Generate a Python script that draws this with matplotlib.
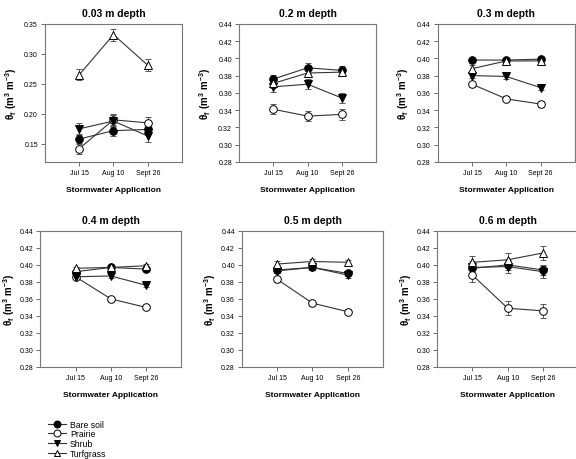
import matplotlib
matplotlib.use("Agg")
import matplotlib.pyplot as plt
from matplotlib.lines import Line2D

plt.rcParams["font.family"] = ["Liberation Sans", "DejaVu Sans"]
plt.rcParams["mathtext.fontset"] = "custom"
plt.rcParams["mathtext.bf"] = "Liberation Sans:bold"
plt.rcParams["mathtext.rm"] = "Liberation Sans:bold"
plt.rcParams["mathtext.default"] = "bf"

dates = ["Jul 15", "Aug 10", "Sept 26"]
depths = ["0.03 m depth", "0.2 m depth", "0.3 m depth",
          "0.4 m depth", "0.5 m depth", "0.6 m depth"]
treatments = ["Bare soil", "Prairie", "Shrub", "Turfgrass"]

# mean values per depth, per treatment (Jul 15, Aug 10, Sept 26)
bare_soil = [[0.158, 0.172, 0.174], [0.376, 0.389, 0.386], [0.398, 0.398, 0.399],
             [0.392, 0.397, 0.395], [0.394, 0.397, 0.390], [0.396, 0.400, 0.394]]
prairie = [[0.142, 0.190, 0.185], [0.341, 0.333, 0.335], [0.370, 0.353, 0.347],
           [0.386, 0.360, 0.350], [0.383, 0.355, 0.345], [0.388, 0.349, 0.346]]
shrub = [[0.175, 0.188, 0.163], [0.367, 0.370, 0.354], [0.380, 0.379, 0.366],
         [0.386, 0.387, 0.376], [0.393, 0.397, 0.388], [0.397, 0.398, 0.392]]
turfgrass = [[0.265, 0.332, 0.281], [0.371, 0.383, 0.384], [0.388, 0.397, 0.397],
             [0.396, 0.397, 0.399], [0.401, 0.404, 0.403], [0.403, 0.406, 0.414]]
# standard errors
err_bare = [[0.008, 0.009, 0.008], [0.005, 0.006, 0.005], [0.002, 0.002, 0.002],
            [0.002, 0.002, 0.002], [0.003, 0.003, 0.003], [0.006, 0.006, 0.006]]
err_prairie = [[0.009, 0.010, 0.010], [0.006, 0.006, 0.006], [0.003, 0.003, 0.003],
               [0.002, 0.002, 0.002], [0.003, 0.003, 0.003], [0.008, 0.008, 0.008]]
err_shrub = [[0.010, 0.010, 0.010], [0.006, 0.006, 0.006], [0.003, 0.003, 0.003],
             [0.002, 0.002, 0.002], [0.003, 0.003, 0.003], [0.007, 0.007, 0.007]]
err_turf = [[0.009, 0.010, 0.010], [0.005, 0.005, 0.005], [0.004, 0.003, 0.003],
            [0.002, 0.002, 0.002], [0.003, 0.003, 0.003], [0.008, 0.008, 0.008]]

series = [bare_soil, prairie, shrub, turfgrass]
errors = [err_bare, err_prairie, err_shrub, err_turf]
markers = ["o", "o", "v", "^"]
faces = ["black", "white", "black", "white"]

fig = plt.figure(figsize=(5.76, 4.6), dpi=100)
lefts = [[0.078, 0.415, 0.760], [0.070, 0.420, 0.759]]
widths = [0.238, 0.245]
bottoms = [0.646, 0.200]
heights = [0.300, 0.296]

x = [1, 2, 3]
for i, name in enumerate(depths):
    r, c = divmod(i, 3)
    ax = fig.add_axes([lefts[r][c], bottoms[r], widths[r], heights[r]])
    for s, e, m, fc in zip(series, errors, markers, faces):
        ax.errorbar(x, s[i], yerr=e[i], marker=m, ms=5.5, mfc=fc, mec="black",
                    mew=0.7, color="#333333", lw=0.8, ecolor="#555555",
                    elinewidth=0.7, capsize=2.5, capthick=0.7)
    ax.set_xlim(0, 4)
    ax.set_xticks(x)
    ax.set_xticklabels(dates)
    if i == 0:
        ax.set_ylim(0.12, 0.35)
        ax.set_yticks([0.15, 0.20, 0.25, 0.30, 0.35])
    else:
        ax.set_ylim(0.28, 0.44)
        ax.set_yticks([0.28, 0.30, 0.32, 0.34, 0.36, 0.38, 0.40, 0.42, 0.44])
    ax.yaxis.set_major_formatter(matplotlib.ticker.FormatStrFormatter("%.2f"))
    ax.tick_params(labelsize=5, length=3, width=0.6, direction="out",
                   top=False, right=False, color="#555555", pad=2)
    for sp in ax.spines.values():
        sp.set_color("#777777")
        sp.set_linewidth(0.8)
    ax.set_title(name, fontsize=7.5, fontweight="bold", pad=6)
    ax.set_xlabel("Stormwater Application", fontsize=6, fontweight="bold", labelpad=7)
    ax.set_ylabel(r"$\theta_f\ (m^3\ m^{-3})$", fontsize=7, labelpad=4 if r == 0 else 2)

handles = [Line2D([0], [0], marker=m, ms=5, mfc=fc, mec="black", mew=0.7,
                  color="#333333", lw=0.8) for m, fc in zip(markers, faces)]
fig.legend(handles, treatments, loc="upper left", bbox_to_anchor=(0.075, 0.095),
           frameon=False, fontsize=6.2, handlelength=2.2, labelspacing=0.1,
           handletextpad=0.4, borderpad=0)

fig.savefig("out.png", dpi=100)
